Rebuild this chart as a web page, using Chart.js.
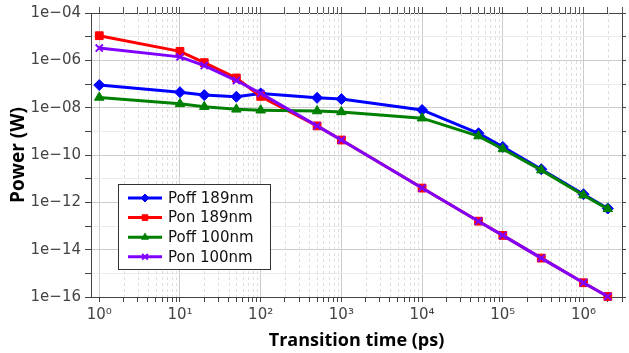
<!DOCTYPE html>
<html>
<head>
<meta charset="utf-8">
<script src="https://cdn.jsdelivr.net/npm/chart.js@4.4.1/dist/chart.umd.min.js"></script>
<style>
  html, body { margin: 0; padding: 0; background: #fff; }
  #wrap { width: 629px; height: 353px; }
</style>
</head>
<body>
<div id="wrap"><canvas id="powerChart"></canvas></div>
<script>
// transition times (ps) and power (W)
const transitionTimes = [1, 10, 20, 50, 100, 500, 1000, 1e4, 5e4, 1e5, 3e5, 1e6, 2e6];
const poff189 = [9e-8, 4.5e-8, 3.4e-8, 2.9e-8, 4e-8, 2.6e-8, 2.3e-8, 8e-9, 8.3e-10, 2.2e-10, 2.5e-11, 2.2e-12, 5.5e-13];
const pon189 = [1.1e-5, 2.4e-6, 8e-7, 1.8e-7, 3e-8, 1.7e-9, 4.3e-10, 4e-12, 1.6e-13, 4e-14, 4.4e-15, 4e-16, 1.05e-16];
const poff100 = [2.7e-8, 1.45e-8, 1.1e-8, 8.5e-9, 7.8e-9, 7.2e-9, 6.6e-9, 3.6e-9, 6.3e-10, 1.8e-10, 2.3e-11, 2e-12, 5.3e-13];
const pon100 = [3.3e-6, 1.4e-6, 6e-7, 1.4e-7, 4e-8, 1.7e-9, 4.3e-10, 4e-12, 1.6e-13, 4e-14, 4.4e-15, 4e-16, 1.05e-16];

const seriesNames = ['Poff 189nm', 'Pon 189nm', 'Poff 100nm', 'Pon 100nm'];
const xDecadeLabels = ['10\u2070', '10\u00b9', '10\u00b2', '10\u00b3', '10\u2074', '10\u2075', '10\u2076'];
const yExponents = [-16, -15, -14, -13, -12, -11, -10, -9, -8, -7, -6, -5, -4];

const X_MIN = 0.79, X_MAX = 3e6;
const xTickValues = [];
for (let d = 0; d <= 6; d++) {
    for (let m = 1; m <= 9; m++) {
        const v = m * Math.pow(10, d);
        if (v <= X_MAX) xTickValues.push(v);
    }
}
const isDecade = v => Math.abs(Math.log10(v) - Math.round(Math.log10(v))) < 1e-9;

const toPoints = arr => arr.map((y, i) => ({ x: transitionTimes[i], y: y }));

const tickFont = { family: 'DejaVu Sans', size: 15 };

// dashed minor grid on x
const minorGrid = {
    id: 'minorGrid',
    beforeDatasetsDraw(chart) {
        const { ctx, chartArea, scales } = chart;
        ctx.save();
        ctx.strokeStyle = '#dedede';
        ctx.lineWidth = 1;
        ctx.setLineDash([3, 3]);
        xTickValues.forEach(v => {
            if (isDecade(v)) return;
            const px = Math.round(scales.x.getPixelForValue(v)) + 0.5;
            if (px < chartArea.left || px > chartArea.right) return;
            ctx.beginPath();
            ctx.moveTo(px, chartArea.top);
            ctx.lineTo(px, chartArea.bottom);
            ctx.stroke();
        });
        ctx.restore();
    }
};

// boxed legend inside the plot
const boxLegend = {
    id: 'boxLegend',
    afterDraw(chart) {
        const ctx = chart.ctx;
        const x0 = 118, y0 = 184, w = 152, h = 85;
        ctx.save();
        ctx.fillStyle = '#fff';
        ctx.fillRect(x0, y0, w, h);
        ctx.strokeStyle = '#333';
        ctx.lineWidth = 1;
        ctx.strokeRect(x0 + 0.5, y0 + 0.5, w, h);
        ctx.font = '15px "DejaVu Sans"';
        ctx.textBaseline = 'middle';
        chart.data.datasets.forEach((ds, i) => {
            const cy = y0 + 14 + i * 19.6;
            ctx.strokeStyle = ds.borderColor;
            ctx.lineWidth = 3;
            ctx.setLineDash([]);
            ctx.beginPath();
            ctx.moveTo(x0 + 10, cy);
            ctx.lineTo(x0 + 44, cy);
            ctx.stroke();
            ctx.fillStyle = ds.backgroundColor;
            ctx.strokeStyle = ds.borderColor;
            ctx.lineWidth = ds.pointStyle === 'crossRot' ? 2 : 1;
            Chart.helpers.drawPoint(ctx, { pointStyle: ds.pointStyle, radius: 4, borderWidth: ctx.lineWidth, rotation: 0 }, x0 + 27, cy);
            ctx.fillStyle = '#111';
            ctx.fillText(ds.label, x0 + 50, cy + 1);
        });
        ctx.restore();
    }
};

const tickVal = c => (c && c.tick) ? c.tick.value : null;

const ctx = document.getElementById('powerChart').getContext('2d');

new Chart(ctx, {
    type: 'line',
    data: {
        datasets: [
            { label: seriesNames[0], data: toPoints(poff189), borderColor: '#0000ff', backgroundColor: '#0000ff', pointStyle: 'rectRot', pointRadius: 5.5, order: 4 },
            { label: seriesNames[1], data: toPoints(pon189), borderColor: '#ff0000', backgroundColor: '#ff0000', pointStyle: 'rect', pointRadius: 5.5, order: 3 },
            { label: seriesNames[2], data: toPoints(poff100), borderColor: '#008000', backgroundColor: '#008000', pointStyle: 'triangle', pointRadius: 5.5, order: 2 },
            { label: seriesNames[3], data: toPoints(pon100), borderColor: '#8000ff', backgroundColor: '#8000ff', pointStyle: 'crossRot', pointRadius: 5, pointBorderWidth: 2, order: 1 }
        ]
    },
    options: {
        responsive: true,
        maintainAspectRatio: false,
        animation: false,
        events: [],
        clip: false,
        layout: { padding: 0 },
        elements: {
            line: { borderWidth: 3, tension: 0 },
            point: { borderWidth: 1 }
        },
        plugins: {
            legend: { display: false },
            tooltip: { enabled: false }
        },
        scales: {
            x: {
                type: 'logarithmic',
                position: 'bottom',
                bounds: 'data',
                min: X_MIN,
                max: X_MAX,
                afterBuildTicks: s => { s.ticks = xTickValues.map(v => ({ value: v })); },
                afterFit: s => { s.height = 56; },
                ticks: {
                    autoSkip: false,
                    maxRotation: 0,
                    font: tickFont,
                    color: '#444',
                    padding: 4,
                    callback: v => isDecade(v) ? xDecadeLabels[Math.round(Math.log10(v))] : ''
                },
                grid: {
                    color: c => { const v = tickVal(c); return (v === null || isDecade(v)) ? '#cccccc' : 'rgba(0,0,0,0)'; },
                    tickColor: '#444',
                    tickLength: 5
                },
                border: { color: '#444', width: 1 },
                title: {
                    display: true,
                    text: 'Transition time (ps)',
                    font: { family: 'Open Sans', size: 18, weight: 'bold' },
                    color: '#000',
                    padding: { top: 0, bottom: 1 }
                }
            },
            xTop: {
                type: 'logarithmic',
                position: 'top',
                bounds: 'data',
                min: X_MIN,
                max: X_MAX,
                afterBuildTicks: s => { s.ticks = xTickValues.map(v => ({ value: v })); },
                afterFit: s => { s.height = 13; },
                ticks: { display: false, autoSkip: false },
                grid: {
                    drawOnChartArea: false,
                    tickColor: '#555',
                    tickLength: 6
                },
                border: { color: '#444', width: 1 }
            },
            y: {
                type: 'logarithmic',
                position: 'left',
                bounds: 'data',
                min: 1e-16,
                max: 1e-4,
                afterBuildTicks: s => { s.ticks = yExponents.map(e => ({ value: Math.pow(10, e) })); },
                afterFit: s => { s.width = 91; },
                ticks: {
                    autoSkip: false,
                    font: tickFont,
                    color: '#444',
                    padding: 4,
                    callback: v => {
                        const e = Math.round(Math.log10(v));
                        if (e % 2 !== 0) return '';
                        return '1e\u2212' + String(-e).padStart(2, '0');
                    }
                },
                grid: {
                    color: c => { const v = tickVal(c); return (v === null || Math.round(Math.log10(v)) % 2 === 0) ? '#cccccc' : '#ebebeb'; },
                    tickColor: '#444',
                    tickLength: 6
                },
                border: { color: '#444', width: 1 },
                title: {
                    display: true,
                    text: 'Power (W)',
                    font: { family: 'Open Sans', size: 19, weight: 'bold' },
                    color: '#000',
                    padding: { top: 7, bottom: 0 }
                }
            },
            yRight: {
                type: 'logarithmic',
                position: 'right',
                bounds: 'data',
                min: 1e-16,
                max: 1e-4,
                afterBuildTicks: s => { s.ticks = yExponents.map(e => ({ value: Math.pow(10, e) })); },
                afterFit: s => { s.width = 4; },
                ticks: { display: false, autoSkip: false },
                grid: { drawOnChartArea: false, tickColor: '#444', tickLength: 4 },
                border: { color: '#444', width: 1 }
            }
        }
    },
    plugins: [minorGrid, boxLegend]
});
</script>
</body>
</html>
